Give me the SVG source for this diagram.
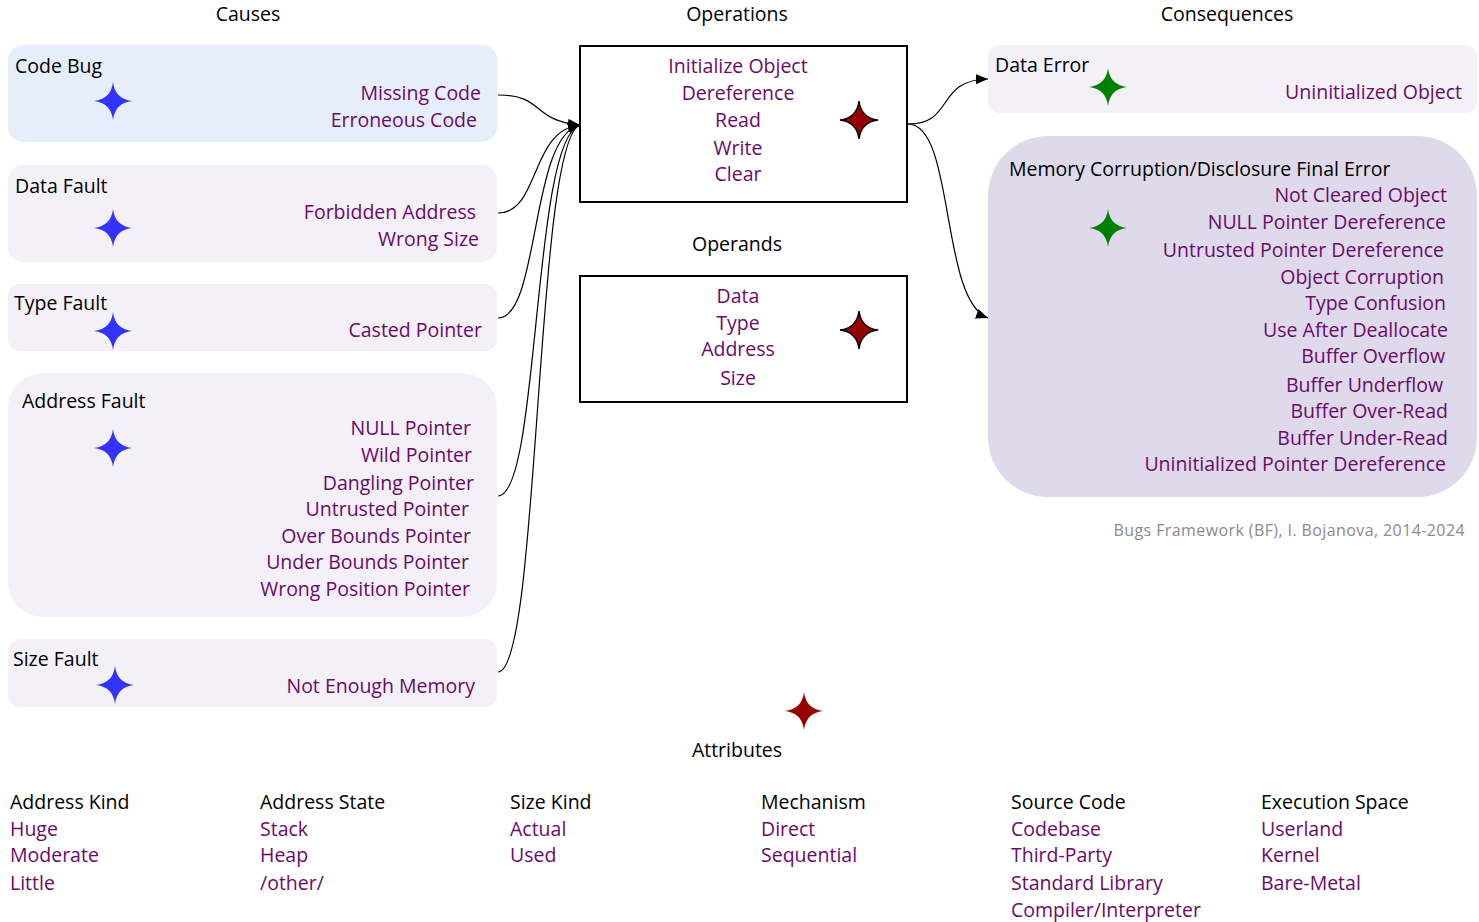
<svg xmlns="http://www.w3.org/2000/svg" width="1479" height="922" viewBox="0 0 1479 922">
<defs>
<style>
text{font-family:"Open Sans","Noto Sans",sans-serif;font-size:19.5px;fill:#000}
.v{fill:#6b0a6b}
.e{text-anchor:end}
.m{text-anchor:middle}
.box{fill:#f3f0f8}
.op{fill:#fff;stroke:#000;stroke-width:2}
.con{fill:none;stroke:#000;stroke-width:1.2}
.foot{font-size:16px;fill:#8a8a8a;letter-spacing:0.4px}
</style>
<path id="star" d="M0,-19 Q2,-2 19,0 Q2,2 0,19 Q-2,2 -19,0 Q-2,-2 0,-19 Z"/>
<marker id="arr" viewBox="0 0 12 10" refX="12" refY="5" markerWidth="12" markerHeight="10" markerUnits="userSpaceOnUse" orient="auto">
<path d="M0,0 L12,5 L0,10 Z" fill="#000"/>
</marker>
</defs>
<rect width="1479" height="922" fill="#fff"/>

<text class="m" x="248" y="21">Causes</text>
<text class="m" x="737" y="21">Operations</text>
<text class="m" x="1227" y="21">Consequences</text>

<g id="connectors">
<path class="con" marker-end="url(#arr)" d="M498,95 C545,95 530,120 580,125"/>
<path class="con" marker-end="url(#arr)" d="M498,213 C540,213 530,130 580,125"/>
<path class="con" marker-end="url(#arr)" d="M498,318 C540,318 530,135 580,125"/>
<path class="con" marker-end="url(#arr)" d="M498,496 C540,496 532,138 580,125"/>
<path class="con" marker-end="url(#arr)" d="M498,672 C540,672 535,140 580,125"/>
<path class="con" marker-end="url(#arr)" d="M908,124 C955,124 935,80 988,79"/>
<path class="con" marker-end="url(#arr)" d="M908,124 C955,124 940,300 988,318"/>
</g>

<g id="code-bug">
<rect x="8" y="45" width="489" height="97" rx="15" fill="#e6eefb"/>
<text x="15" y="73">Code Bug</text>
<use href="#star" x="113" y="101" fill="#3333ff"/>
<text class="v e" x="481" y="100">Missing Code</text>
<text class="v e" x="477" y="127">Erroneous Code</text>
</g>

<g id="data-fault">
<rect class="box" x="8" y="165" width="489" height="97" rx="15"/>
<text x="15" y="193">Data Fault</text>
<use href="#star" x="113" y="228" fill="#3333ff"/>
<text class="v e" x="476" y="219">Forbidden Address</text>
<text class="v e" x="479" y="246">Wrong Size</text>
</g>

<g id="type-fault">
<rect class="box" x="8" y="284" width="489" height="67" rx="12"/>
<text x="14" y="310">Type Fault</text>
<use href="#star" x="113" y="331" fill="#3333ff"/>
<text class="v e" x="482" y="337">Casted Pointer</text>
</g>

<g id="address-fault">
<rect class="box" x="8" y="373" width="489" height="244" rx="35"/>
<text x="22" y="408">Address Fault</text>
<use href="#star" x="113" y="448" fill="#3333ff"/>
<text class="v e" x="471" y="435">NULL Pointer</text>
<text class="v e" x="472" y="462">Wild Pointer</text>
<text class="v e" x="474" y="490">Dangling Pointer</text>
<text class="v e" x="469" y="516">Untrusted Pointer</text>
<text class="v e" x="471" y="543">Over Bounds Pointer</text>
<text class="v e" x="469" y="569">Under Bounds Pointer</text>
<text class="v e" x="470" y="596">Wrong Position Pointer</text>
</g>

<g id="size-fault">
<rect class="box" x="8" y="639" width="489" height="68" rx="12"/>
<text x="13" y="666">Size Fault</text>
<use href="#star" x="115" y="685" fill="#3333ff"/>
<text class="v e" x="475" y="693">Not Enough Memory</text>
</g>

<g id="operations">
<rect class="op" x="580" y="46" width="327" height="156"/>
<text class="v m" x="738" y="73">Initialize Object</text>
<text class="v m" x="738" y="100">Dereference</text>
<text class="v m" x="738" y="127">Read</text>
<text class="v m" x="738" y="155">Write</text>
<text class="v m" x="738" y="181">Clear</text>
<use href="#star" x="859" y="120" fill="#990000" stroke="#000" stroke-width="1.5"/>
</g>

<g id="operands">
<text class="m" x="737" y="251">Operands</text>
<rect class="op" x="580" y="276" width="327" height="126"/>
<text class="v m" x="738" y="303">Data</text>
<text class="v m" x="738" y="330">Type</text>
<text class="v m" x="738" y="356">Address</text>
<text class="v m" x="738" y="385">Size</text>
<use href="#star" x="859" y="330" fill="#990000" stroke="#000" stroke-width="1.5"/>
</g>

<g id="data-error">
<rect class="box" x="988" y="45" width="489" height="68" rx="12"/>
<text x="995" y="72">Data Error</text>
<use href="#star" x="1108" y="87" fill="#008000"/>
<text class="v e" x="1462" y="99">Uninitialized Object</text>
</g>

<g id="memory-corruption">
<rect x="988" y="136" width="489" height="361" rx="60" fill="#dedaeb"/>
<text x="1009" y="176">Memory Corruption/Disclosure Final Error</text>
<use href="#star" x="1108" y="228" fill="#008000"/>
<text class="v e" x="1447" y="202">Not Cleared Object</text>
<text class="v e" x="1446" y="229">NULL Pointer Dereference</text>
<text class="v e" x="1444" y="257">Untrusted Pointer Dereference</text>
<text class="v e" x="1444" y="284">Object Corruption</text>
<text class="v e" x="1446" y="310">Type Confusion</text>
<text class="v e" x="1448" y="337">Use After Deallocate</text>
<text class="v e" x="1445" y="363">Buffer Overflow</text>
<text class="v e" x="1443" y="392">Buffer Underflow</text>
<text class="v e" x="1448" y="418">Buffer Over-Read</text>
<text class="v e" x="1448" y="445">Buffer Under-Read</text>
<text class="v e" x="1446" y="471">Uninitialized Pointer Dereference</text>
</g>

<text class="foot e" x="1465" y="536">Bugs Framework (BF), I. Bojanova, 2014-2024</text>

<g id="attributes">
<use href="#star" x="804" y="711" fill="#990000"/>
<text class="m" x="737" y="757">Attributes</text>
<text x="10" y="809">Address Kind</text>
<text class="v" x="10" y="836">Huge</text>
<text class="v" x="10" y="862">Moderate</text>
<text class="v" x="10" y="890">Little</text>
<text x="260" y="809">Address State</text>
<text class="v" x="260" y="836">Stack</text>
<text class="v" x="260" y="862">Heap</text>
<text class="v" x="260" y="890">/other/</text>
<text x="510" y="809">Size Kind</text>
<text class="v" x="510" y="836">Actual</text>
<text class="v" x="510" y="862">Used</text>
<text x="761" y="809">Mechanism</text>
<text class="v" x="761" y="836">Direct</text>
<text class="v" x="761" y="862">Sequential</text>
<text x="1011" y="809">Source Code</text>
<text class="v" x="1011" y="836">Codebase</text>
<text class="v" x="1011" y="862">Third-Party</text>
<text class="v" x="1011" y="890">Standard Library</text>
<text class="v" x="1011" y="917">Compiler/Interpreter</text>
<text x="1261" y="809">Execution Space</text>
<text class="v" x="1261" y="836">Userland</text>
<text class="v" x="1261" y="862">Kernel</text>
<text class="v" x="1261" y="890">Bare-Metal</text>
</g>
</svg>
